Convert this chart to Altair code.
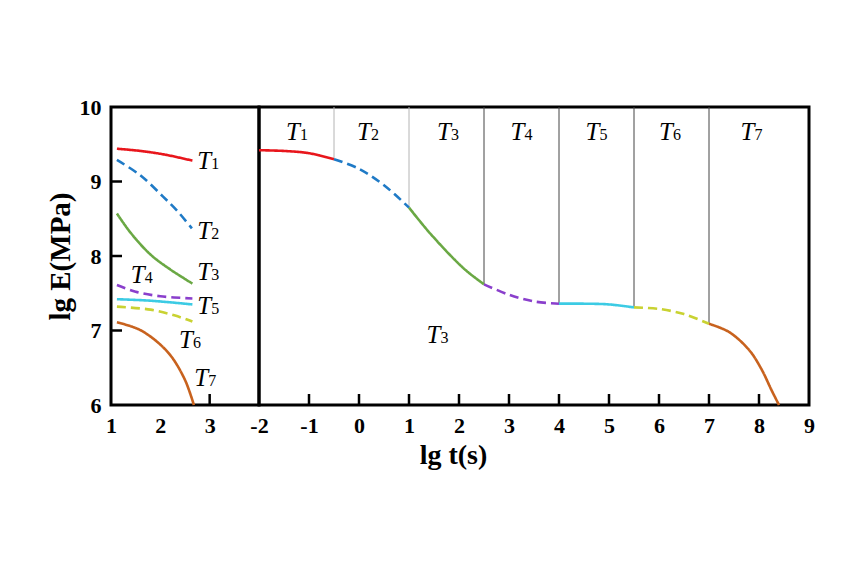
import altair as alt
import pandas as pd

series = ["T1", "T2", "T3", "T4", "T5", "T6", "T7"]
colors = ["#e8161c", "#1f7ac6", "#6aa844", "#8a3fcc", "#3ccbe4", "#c9d232", "#c8621e"]
dashed_series = ["T2", "T4", "T6"]

# Left panel: short-term curves at each temperature (lg t, lg E)
left_x = {
    "T1": [1.12, 1.6, 2.1, 2.65],
    "T2": [1.12, 1.6, 2.05, 2.35, 2.64],
    "T3": [1.12, 1.4, 1.8, 2.2, 2.65],
    "T4": [1.12, 1.5, 2.0, 2.65],
    "T5": [1.12, 1.8, 2.65],
    "T6": [1.12, 1.8, 2.3, 2.65],
    "T7": [1.12, 1.61, 2.15, 2.49, 2.68],
}
left_y = {
    "T1": [9.44, 9.41, 9.36, 9.28],
    "T2": [9.29, 9.08, 8.80, 8.60, 8.37],
    "T3": [8.57, 8.31, 8.02, 7.82, 7.63],
    "T4": [7.61, 7.52, 7.46, 7.43],
    "T5": [7.42, 7.40, 7.35],
    "T6": [7.32, 7.28, 7.20, 7.12],
    "T7": [7.11, 7.00, 6.71, 6.35, 6.00],
}

# Right panel: master curve segments
right_x = {
    "T1": [-2.0, -1.5, -1.0, -0.5],
    "T2": [-0.5, 0.0, 0.5, 1.0],
    "T3": [1.0, 1.44, 2.1, 2.5],
    "T4": [2.5, 3.0, 3.5, 4.0],
    "T5": [4.0, 4.5, 5.0, 5.5],
    "T6": [5.5, 6.0, 6.5, 7.0],
    "T7": [7.0, 7.4, 7.8, 8.05, 8.25, 8.4],
}
right_y = {
    "T1": [9.42, 9.41, 9.38, 9.30],
    "T2": [9.30, 9.17, 8.95, 8.65],
    "T3": [8.65, 8.29, 7.83, 7.62],
    "T4": [7.62, 7.48, 7.39, 7.36],
    "T5": [7.36, 7.36, 7.35, 7.31],
    "T6": [7.31, 7.29, 7.22, 7.09],
    "T7": [7.09, 6.98, 6.74, 6.48, 6.20, 6.00],
}

# segment boundaries (vertical lines)
bound_x = [-0.5, 1.0, 2.5, 4.0, 5.5, 7.0]
bound_y = [9.30, 8.65, 7.62, 7.36, 7.31, 7.09]
bound_shade = ["light", "light", "dark", "dark", "dark", "dark"]

# labels
left_lab_x = [2.89, 2.89, 2.89, 1.54, 2.89, 2.52, 2.83]
left_lab_y = [9.27, 8.33, 7.78, 7.74, 7.33, 6.87, 6.36]
right_lab_x = [-1.32, 0.10, 1.70, 3.17, 4.67, 6.14, 7.77, 1.49]
right_lab_y = [9.66, 9.66, 9.66, 9.66, 9.66, 9.66, 9.66, 6.94]
right_lab_n = ["1", "2", "3", "4", "5", "6", "7", "3"]

left_xticks = [1, 2, 3]
left_xtick_marks = [3]
right_xticks = [-2, -1, 0, 1, 2, 3, 4, 5, 6, 7, 8, 9]
right_xtick_marks = [-1, 0, 1, 2, 3, 4, 5, 6, 7, 8]
yticks = [6, 7, 8, 9, 10]
ytick_marks = [7, 8, 9]

FONT = "Liberation Serif"
H = 298
WL = 148
WR = 550
TICK_PX = 11
YMIN, YMAX = 6, 10
XLMIN, XLMAX = 1, 4
XRMIN, XRMAX = -2, 9
tick_dy = TICK_PX * (YMAX - YMIN) / H        # tick length in y data units
tick_dxl = TICK_PX * (XLMAX - XLMIN) / WL    # tick length in left-x data units


def curves(xs, ys):
    rows = []
    for s in series:
        for i, (x, y) in enumerate(zip(xs[s], ys[s])):
            rows.append({"series": s, "x": x, "y": y, "i": i,
                         "style": "dash" if s in dashed_series else "solid"})
    return pd.DataFrame(rows)


left_df = curves(left_x, left_y)
right_df = curves(right_x, right_y)

left_lab = pd.DataFrame({"x": left_lab_x, "y": left_lab_y,
                         "t": ["T"] * 7, "n": [s[1] for s in series]})
right_lab = pd.DataFrame({"x": right_lab_x, "y": right_lab_y,
                          "t": ["T"] * 8, "n": right_lab_n})
bounds = pd.DataFrame({"x": bound_x, "y": bound_y, "top": [YMAX] * 6, "shade": bound_shade})

axis_common = dict(ticks=False, domain=False, grid=False, labelFont=FONT, labelFontSize=22,
                   labelFontWeight="bold", labelColor="black", labelPadding=10,
                   labelFlush=False, labelOverlap=False, labelExpr="'' + datum.value")

XL = alt.X("x:Q", scale=alt.Scale(domain=[XLMIN, XLMAX], nice=False, zero=False),
           axis=alt.Axis(values=left_xticks, title=None, **axis_common))
YL = alt.Y("y:Q", scale=alt.Scale(domain=[YMIN, YMAX], nice=False, zero=False),
           axis=alt.Axis(values=yticks, title="lg E(MPa)", titleFont=FONT,
                         titleFontSize=29, titleFontWeight="bold", titleColor="black",
                         titlePadding=4, **axis_common))
XR = alt.X("x:Q", scale=alt.Scale(domain=[XRMIN, XRMAX], nice=False, zero=False),
           axis=alt.Axis(values=right_xticks, title="lg t(s)", titleFont=FONT,
                         titleFontSize=28, titleFontWeight="bold", titleColor="black",
                         titlePadding=5, titleX=194, **axis_common))
YR = alt.Y("y:Q", scale=alt.Scale(domain=[YMIN, YMAX], nice=False, zero=False), axis=None)

color_enc = alt.Color("series:N", scale=alt.Scale(domain=series, range=colors), legend=None)
dash_enc = alt.StrokeDash("style:N", scale=alt.Scale(domain=["solid", "dash"],
                                                     range=[[1, 0], [9, 5]]), legend=None)


def line_layer(df, X, Y):
    return alt.Chart(df).mark_line(strokeWidth=2.6, interpolate="catmull-rom").encode(
        x=X, y=Y, color=color_enc, strokeDash=dash_enc, detail="series:N", order="i:Q")


def label_layers(df, X, Y):
    t = alt.Chart(df).mark_text(font=FONT, fontSize=25, fontStyle="italic", align="center",
                                baseline="alphabetic", dy=8, color="black").encode(
        x=X, y=Y, text="t:N")
    n = alt.Chart(df).mark_text(font=FONT, fontSize=16, align="left",
                                baseline="alphabetic", dx=7, dy=8, color="black").encode(
        x=X, y=Y, text="n:N")
    return [t, n]


def xtick_layer(vals, X, Y):
    df = pd.DataFrame({"x": vals, "ya": [YMIN] * len(vals), "yb": [YMIN + tick_dy] * len(vals)})
    return alt.Chart(df).mark_rule(stroke="#000000", strokeWidth=2.5).encode(
        x=X, y=alt.Y("ya:Q"), y2="yb:Q")


def ytick_layer(vals, X, Y):
    df = pd.DataFrame({"y": vals, "xa": [XLMIN] * len(vals), "xb": [XLMIN + tick_dxl] * len(vals)})
    return alt.Chart(df).mark_rule(stroke="#000000", strokeWidth=2.5).encode(
        x=alt.X("xa:Q"), x2="xb:Q", y=Y)


left = alt.layer(
    line_layer(left_df, XL, YL),
    *label_layers(left_lab, XL, YL),
    xtick_layer(left_xtick_marks, XL, YL),
    ytick_layer(ytick_marks, XL, YL),
).properties(width=WL, height=H)

vlines = alt.Chart(bounds).mark_rule(strokeWidth=1).encode(
    x=XR, y=YR, y2="top:Q",
    color=alt.Color("shade:N", scale=alt.Scale(domain=["light", "dark"],
                                               range=["#b4b4b4", "#444444"]), legend=None))

right = alt.layer(
    vlines,
    line_layer(right_df, XR, YR),
    *label_layers(right_lab, XR, YR),
    xtick_layer(right_xtick_marks, XR, YR),
).properties(width=WR, height=H).resolve_scale(color="independent")

chart = alt.hconcat(left, right, spacing=0, bounds="flush").properties(
    padding={"left": 36, "top": 86, "right": 5, "bottom": 5},
    background="white",
).configure_view(stroke="black", strokeWidth=3)

chart.save("out.html", embed_options={"renderer": "svg", "actions": False})
